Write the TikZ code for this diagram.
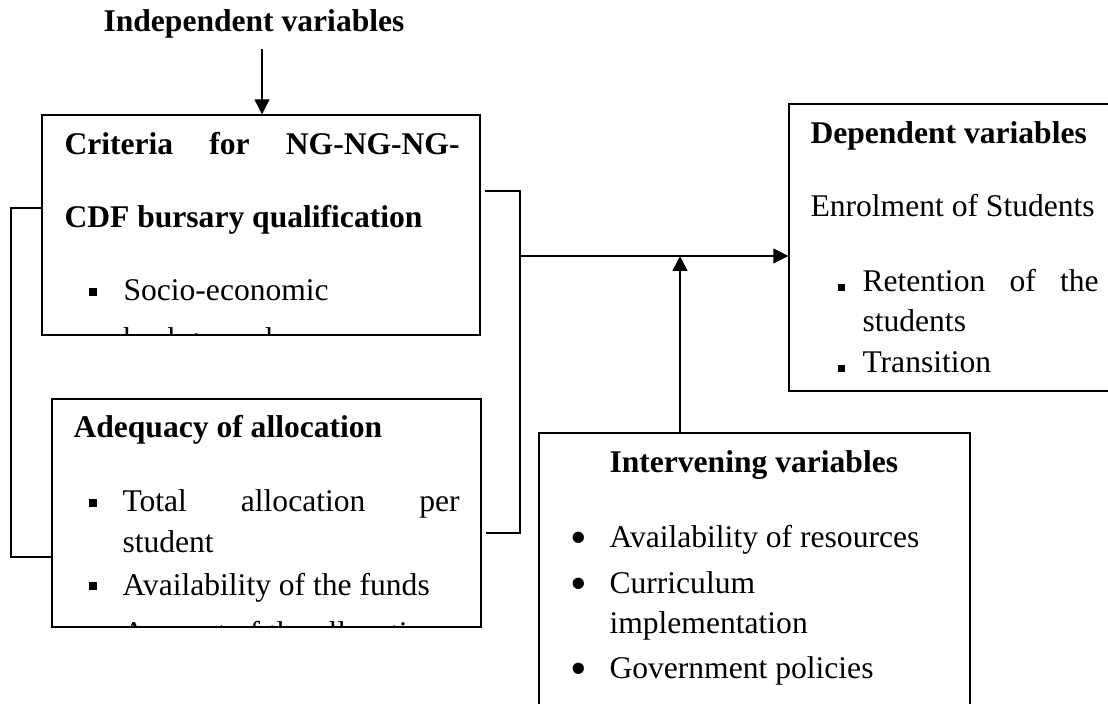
\documentclass[tikz,border=0pt]{standalone}
\usepackage{fontspec}
\setmainfont{Liberation Serif}
\usetikzlibrary{positioning,fit,arrows.meta}
\tikzset{
  box/.style={draw, line width=0.55pt, inner sep=0pt},
  txt/.style={anchor=base west, inner sep=0pt, font=\fontsize{12}{14}\selectfont},
  head/.style={txt, font=\fontsize{12}{14}\selectfont\bfseries},
  bul/.style={anchor=base, inner sep=0pt, font=\fontsize{12}{14}\selectfont},
  dot/.style={bul, font=\fontsize{18}{20}\selectfont, yshift=-2.6pt},
  link/.style={line width=0.55pt},
  arr/.style={link, -{Triangle[length=5.7pt,width=5.7pt]}}
}
\newcommand{\sqbul}{\rule[1.9pt]{3.3pt}{3.1pt}}
\newcommand{\smallsqbul}{\rule[0.4pt]{2.6pt}{2.7pt}}

\begin{document}
\begin{tikzpicture}[x=0.38pt,y=-0.38pt]
\useasboundingbox (0,0) rectangle (1108,704);
\clip (0,0) rectangle (1108,704);
% boxes
\node[box, fit={(42,115) (480,335)}] (crit) {};
\node[box, fit={(52,399) (481,627)}] (adeq) {};
\node[box, fit={(789,104) (1130,391)}] (dep) {};
\node[box, fit={(539,433) (970,740)}] (intv) {};
% independent variables
\node[head, anchor=base] (indep) at (254,32) {Independent variables};
\node[head] (crit1) at (64,155) {\makebox[150.1pt][s]{Criteria for NG-NG-NG-}};
\node[head] (crit2) at (64,228) {CDF bursary qualification};
\node[bul] (critb1) at (93,301) {\sqbul};
\node[txt] (crit3) at (123,301) {Socio-economic};
\begin{scope}
  \clip (crit.south west) rectangle (crit.north east);
  \node[txt] (crit4) at (123,350) {background};
\end{scope}
\node[head] (adeq1) at (73,438) {Adequacy of allocation};
\node[bul] (adeqb1) at (93,512) {\sqbul};
\node[txt] (adeq2) at (122,512) {\makebox[128.1pt][s]{Total allocation per}};
\node[txt] (adeq3) at (122,552) {student};
\node[bul] (adeqb2) at (93,595) {\sqbul};
\node[txt] (adeq4) at (122,595) {Availability of the funds};
\begin{scope}
  \clip (adeq.south west) rectangle (adeq.north east);
  \node[txt] (adeq5) at (122,643) {Amount of the allocation};
\end{scope}
% dependent variables
\node[head] (dep1) at (810,144) {Dependent variables};
\node[txt] (dep2) at (810,217) {Enrolment of Students};
\node[bul] (depb1) at (841.5,292) {\smallsqbul};
\node[txt] (dep3) at (862,292) {\makebox[89.7pt][s]{Retention of the}};
\node[txt] (dep4) at (862,332) {students};
\node[bul] (depb2) at (841.5,373) {\smallsqbul};
\node[txt] (dep5) at (862,373) {Transition};
% intervening variables
\node[head] (intv1) at (609,473) {Intervening variables};
\node[dot] (intvb1) at (579,547) {\textbullet};
\node[txt] (intv2) at (609,547) {Availability of resources};
\node[dot] (intvb2) at (579,593) {\textbullet};
\node[txt] (intv3) at (609,593) {Curriculum};
\node[txt] (intv4) at (609,633) {implementation};
\node[dot] (intvb3) at (579,678) {\textbullet};
\node[txt] (intv5) at (609,678) {Government policies};
% connectors
\coordinate (itop) at (262,49);
\draw[arr] (itop) -- (crit.north -| itop);
\coordinate (lt) at (11,208);
\coordinate (lb) at (11,557);
\draw[link] (crit.west |- lt) -- (lt) -- (lb) -- (adeq.west |- lb);
\coordinate (rt) at (520,191);
\coordinate (rb) at (520,533);
\draw[link] ([xshift=1.5pt]crit.east |- rt) -- (rt) -- (rb) -- ([xshift=1.5pt]adeq.east |- rb);
\coordinate (join) at (520,256);
\draw[arr] (join) -- (dep.west |- join);
\coordinate (meet) at (680,256);
\draw[arr] (intv.north -| meet) -- (meet);
\end{tikzpicture}
\end{document}
